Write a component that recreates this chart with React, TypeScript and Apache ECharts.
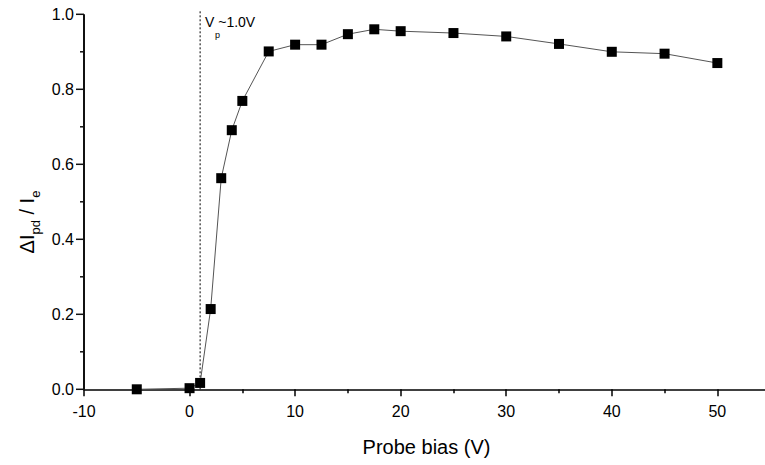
import React, { useEffect, useRef } from "react";
import * as echarts from "echarts";

const probeBias = [-5, 0, 1, 2, 3, 4, 5, 7.5, 10, 12.5, 15, 17.5, 20, 25, 30, 35, 40, 45, 50];
const deltaRatio = [0.0, 0.003, 0.017, 0.214, 0.563, 0.691, 0.769, 0.901, 0.919, 0.919, 0.947, 0.96, 0.955, 0.95, 0.941, 0.921, 0.9, 0.895, 0.87];
const vpValue = 1.0;
const vpLineYs = [0, 1.008];
const xMin = -10;
const xMax = 60;
const yMin = 0;
const yMax = 1;
const xTickStep = 10;
const yTickStep = 0.2;
const yMajorTicks = [0, 0.2, 0.4, 0.6, 0.8, 1.0];
const yMinorTicks = [0.1, 0.3, 0.5, 0.7, 0.9];

const FONT = "'Liberation Sans', Arial, Helvetica, sans-serif";
const CHART_H = 465;
const GRID_LEFT = 84;
const GRID_RIGHT = -57.9;
const GRID_TOP = 14.3;
const GRID_BOTTOM = 75.7;

export default function App() {
  const ref = useRef<HTMLDivElement>(null);
  useEffect(() => {
    if (!ref.current) return;
    const chart = echarts.init(ref.current, null, { renderer: "svg" });
    const points = probeBias.map((x, i) => [x, deltaRatio[i]]);
    const vpLine = vpLineYs.map((y) => [vpValue, y]);
    chart.setOption({
      animation: false,
      backgroundColor: "#ffffff",
      grid: {
        left: GRID_LEFT,
        right: GRID_RIGHT,
        top: GRID_TOP,
        bottom: GRID_BOTTOM,
        containLabel: false,
        outerBoundsMode: "none",
      },
      xAxis: {
        type: "value",
        min: xMin,
        max: xMax,
        interval: xTickStep,
        axisLine: { show: true, onZero: false, lineStyle: { color: "#000", width: 1.5 } },
        axisTick: { show: true, inside: false, length: 7, lineStyle: { color: "#000", width: 1.5 } },
        minorTick: { show: true, splitNumber: 2, length: 4, lineStyle: { color: "#000", width: 1.5 } },
        axisLabel: {
          margin: 14,
          color: "#000",
          fontSize: 16,
          fontFamily: FONT,
          formatter: (v: number) => (v > 50 ? "" : String(v)),
        },
        splitLine: { show: false },
        minorSplitLine: { show: false },
      },
      yAxis: {
        type: "value",
        position: "left",
        min: yMin,
        max: yMax,
        interval: yTickStep,
        axisLine: { show: false, onZero: false },
        axisTick: { show: false },
        minorTick: { show: false },
        axisLabel: {
          margin: 10,
          color: "#000",
          fontSize: 16,
          fontFamily: FONT,
          formatter: (v: number) => v.toFixed(1),
        },
        splitLine: { show: false },
        minorSplitLine: { show: false },
      },
      series: [
        {
          type: "line",
          data: vpLine,
          symbol: "none",
          clip: false,
          silent: true,
          lineStyle: { color: "#000", width: 1, type: [2, 2] },
          z: 1,
        },
        {
          type: "line",
          data: points,
          symbol: "rect",
          symbolSize: 10,
          clip: false,
          itemStyle: { color: "#000" },
          lineStyle: { color: "#555", width: 1 },
          z: 3,
        },
      ],
    });

    const plotH = CHART_H - GRID_TOP - GRID_BOTTOM;
    const toPx = (x: number, y: number): number[] => {
      let p: any = null;
      try {
        p = chart.convertToPixel({ xAxisIndex: 0, yAxisIndex: 0 }, [x, y]);
      } catch (e) {
        p = null;
      }
      if (!p || !isFinite(p[0]) || !isFinite(p[1])) {
        p = [GRID_LEFT, GRID_TOP + plotH * (1 - (y - yMin) / (yMax - yMin))];
      }
      return p;
    };

    const axisEls: any[] = [];
    const bottom = toPx(xMin, yMin);
    const top = toPx(xMin, yMax);
    axisEls.push({
      type: "rect",
      id: "yaxisline",
      silent: true,
      z: 1000,
      shape: { x: bottom[0] - 1, y: top[1], width: 2, height: bottom[1] - top[1] },
      style: { fill: "#111111" },
    });
    const addTicks = (values: number[], len: number, prefix: string) => {
      values.forEach((v, i) => {
        const p = toPx(xMin, v);
        axisEls.push({
          type: "rect",
          id: prefix + i,
          silent: true,
          z: 1000,
          shape: { x: p[0] - len, y: p[1] - 0.75, width: len, height: 1.5 },
          style: { fill: "#111111" },
        });
      });
    };
    addTicks(yMajorTicks, 8, "ymaj");
    addTicks(yMinorTicks, 4, "ymin");

    chart.setOption({
      graphic: [
        {
          type: "text",
          id: "xtitle",
          x: 426.5,
          y: 447,
          style: {
            text: "Probe bias (V)",
            fontSize: 20,
            fontFamily: FONT,
            fill: "#000",
            align: "center",
            verticalAlign: "middle",
          },
        },
        {
          type: "text",
          id: "ytitle",
          x: 27,
          y: 222,
          rotation: Math.PI / 2,
          style: {
            text: "{m|ΔI}{s|pd}{m| / I}{s|e}",
            align: "center",
            verticalAlign: "middle",
            fill: "#000",
            fontFamily: FONT,
            rich: {
              m: { fontSize: 20, fontFamily: FONT, fill: "#000", lineHeight: 21, verticalAlign: "top" },
              s: { fontSize: 13, fontFamily: FONT, fill: "#000", lineHeight: 13, padding: [12, 0, 0, 0], verticalAlign: "top" },
            },
          },
        },
        {
          type: "text",
          id: "vp",
          x: 205,
          y: 22,
          style: {
            text: "V ~1.0V",
            fontSize: 14,
            fontFamily: FONT,
            fill: "#000",
            align: "left",
            verticalAlign: "middle",
          },
        },
        {
          type: "text",
          id: "vpsub",
          x: 215,
          y: 35,
          style: {
            text: "p",
            fontSize: 9,
            fontFamily: FONT,
            fill: "#000",
            align: "left",
            verticalAlign: "middle",
          },
        },
        ...axisEls,
      ],
    });
    return () => chart.dispose();
  }, []);
  return (
    <div
      ref={ref}
      style={{ position: "fixed", left: 0, top: 0, width: 765, height: 465, background: "#fff" }}
    />
  );
}
